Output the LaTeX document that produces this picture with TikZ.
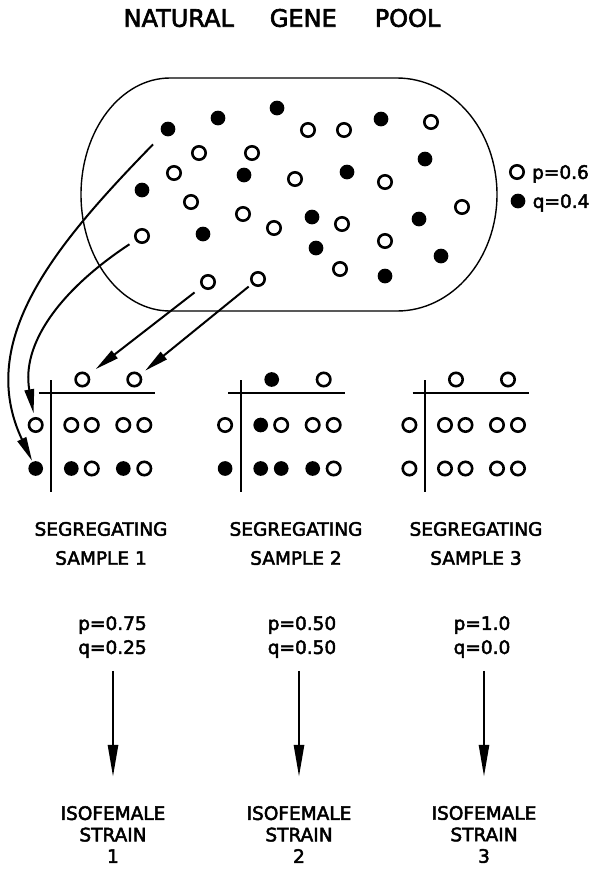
\documentclass[tikz,border=0pt]{standalone}
\usepackage{fontspec}
\setmainfont{DejaVu Sans}[FakeBold=2.6]
\usetikzlibrary{arrows.meta,positioning}

\tikzset{
  pdot/.style={circle,draw,line width=2.6pt,minimum size=13.4pt,inner sep=0pt},
  qdot/.style={circle,fill,minimum size=14.7pt,inner sep=0pt},
  lettering/.style={font=\fontsize{18.5}{29}\selectfont,align=center,inner sep=0pt},
  poolarrow/.style={line width=2pt,-{Triangle[length=24pt,width=9.5pt]}},
  strainarrow/.style={line width=2.6pt,-{Triangle[length=32pt,width=10pt]}},
  gridline/.style={line width=1.8pt}
}

\begin{document}
\begin{tikzpicture}[x=1pt,y=-1pt]
    \useasboundingbox (0,0) rectangle (596,871);

    \node[font=\fontsize{24}{30}\selectfont] (title) at (282,18) {NATURAL\hspace{36pt}GENE\hspace{38pt}POOL};

    \draw[line width=1.4pt] (170,78) -- (397,78)
        arc[start angle=-90,end angle=90,x radius=100,y radius=116.5] -- (170,311)
        arc[start angle=90,end angle=270,x radius=89,y radius=116.5] -- cycle;

    \foreach \x/\y [count=\i] in {168/129,218/118,277/108,381/119,425/159,244/175,347/172,
        142/190,312/217,419/219,203/234,316/248,441/256,385/276}
        \node[qdot] (q\i) at (\x,\y) {};
    \foreach \x/\y [count=\i] in {142/236,208/282,258/279,199/153,252/153,174/173,191/202,
        243/214,274/228,308/130,344/130,431/122,295/179,385/182,462/207,342/224,385/241,340/269}
        \node[pdot] (p\i) at (\x,\y) {};

    \node[pdot] (keyp) at (517,172) {};
    \node[qdot] (keyq) at (518,201) {};
    \node[lettering,text depth=0pt,right=7pt of keyp] (keyptext) {p=0.6};
    \node[lettering,text depth=0pt,right=7pt of keyq] (keyqtext) {q=0.4};

    \foreach \gx/\g/\ta/\tb/\la/\lb/\rowa/\rowb in {
        51.3/1/pdot/pdot/pdot/qdot/{pdot,pdot,pdot,pdot}/{qdot,pdot,qdot,pdot},
        240.7/2/qdot/pdot/pdot/qdot/{qdot,pdot,pdot,pdot}/{qdot,qdot,qdot,pdot},
        425/3/pdot/pdot/pdot/pdot/{pdot,pdot,pdot,pdot}/{pdot,pdot,pdot,pdot}}{
        \draw[gridline] (\gx-12.5,392.7) -- (\gx+104,392.7);
        \draw[gridline] (\gx,380) -- (\gx,492);
        \node[\ta] (g\g t1) at (\gx+31,379.5) {};
        \node[\tb] (g\g t2) at (\gx+83,379.5) {};
        \node[\la] (g\g l1) at (\gx-15.6,425) {};
        \node[\lb] (g\g l2) at (\gx-15.6,468.5) {};
        \foreach \s [count=\k] in \rowa {
            \pgfmathsetmacro{\dx}{{20,40.5,72,93}[\k-1]}
            \node[\s] (g\g a\k) at (\gx+\dx,425) {};
        }
        \foreach \s [count=\k] in \rowb {
            \pgfmathsetmacro{\dx}{{20,40.5,72,93}[\k-1]}
            \node[\s] (g\g b\k) at (\gx+\dx,468.5) {};
        }
    }

    \draw[poolarrow,shorten <=14pt,shorten >=1pt] (q1) .. controls (56,244) and (-25,340) .. (g1l2);
    \draw[poolarrow,shorten <=7pt,shorten >=4pt] (p1) .. controls (60,290) and (21,344) .. (g1l1);
    \draw[poolarrow,shorten <=9pt,shorten >=9pt] (p2) -- (g1t1);
    \draw[poolarrow,shorten <=4pt,shorten >=6pt] (p3) -- (g1t2);

    \node[lettering] (seg1) at (101,543.5) {SEGREGATING\\SAMPLE 1};
    \node[lettering] (seg2) at (296,543.5) {SEGREGATING\\SAMPLE 2};
    \node[lettering] (seg3) at (476,543.5) {SEGREGATING\\SAMPLE 3};

    \node[lettering,font=\fontsize{18.5}{24}\selectfont] (freq1) at (112.5,637) {p=0.75\\q=0.25};
    \node[lettering,font=\fontsize{18.5}{24}\selectfont] (freq2) at (302,637) {p=0.50\\q=0.50};
    \node[lettering,font=\fontsize{18.5}{24}\selectfont] (freq3) at (482,637) {p=1.0\\q=0.0};

    \node[lettering,font=\fontsize{18.5}{21.5}\selectfont] (iso1) at (113,834.5) {ISOFEMALE\\STRAIN\\1};
    \node[lettering,font=\fontsize{18.5}{21.5}\selectfont] (iso2) at (299,834.5) {ISOFEMALE\\STRAIN\\2};
    \node[lettering,font=\fontsize{18.5}{21.5}\selectfont] (iso3) at (484,834.5) {ISOFEMALE\\STRAIN\\3};

    \draw[strainarrow,shorten <=13pt,shorten >=29pt] (freq1.south -| iso1) -- (iso1);
    \draw[strainarrow,shorten <=13pt,shorten >=29pt] (freq2.south -| iso2) -- (iso2);
    \draw[strainarrow,shorten <=13pt,shorten >=29pt] (freq3.south -| iso3) -- (iso3);
\end{tikzpicture}
\end{document}
